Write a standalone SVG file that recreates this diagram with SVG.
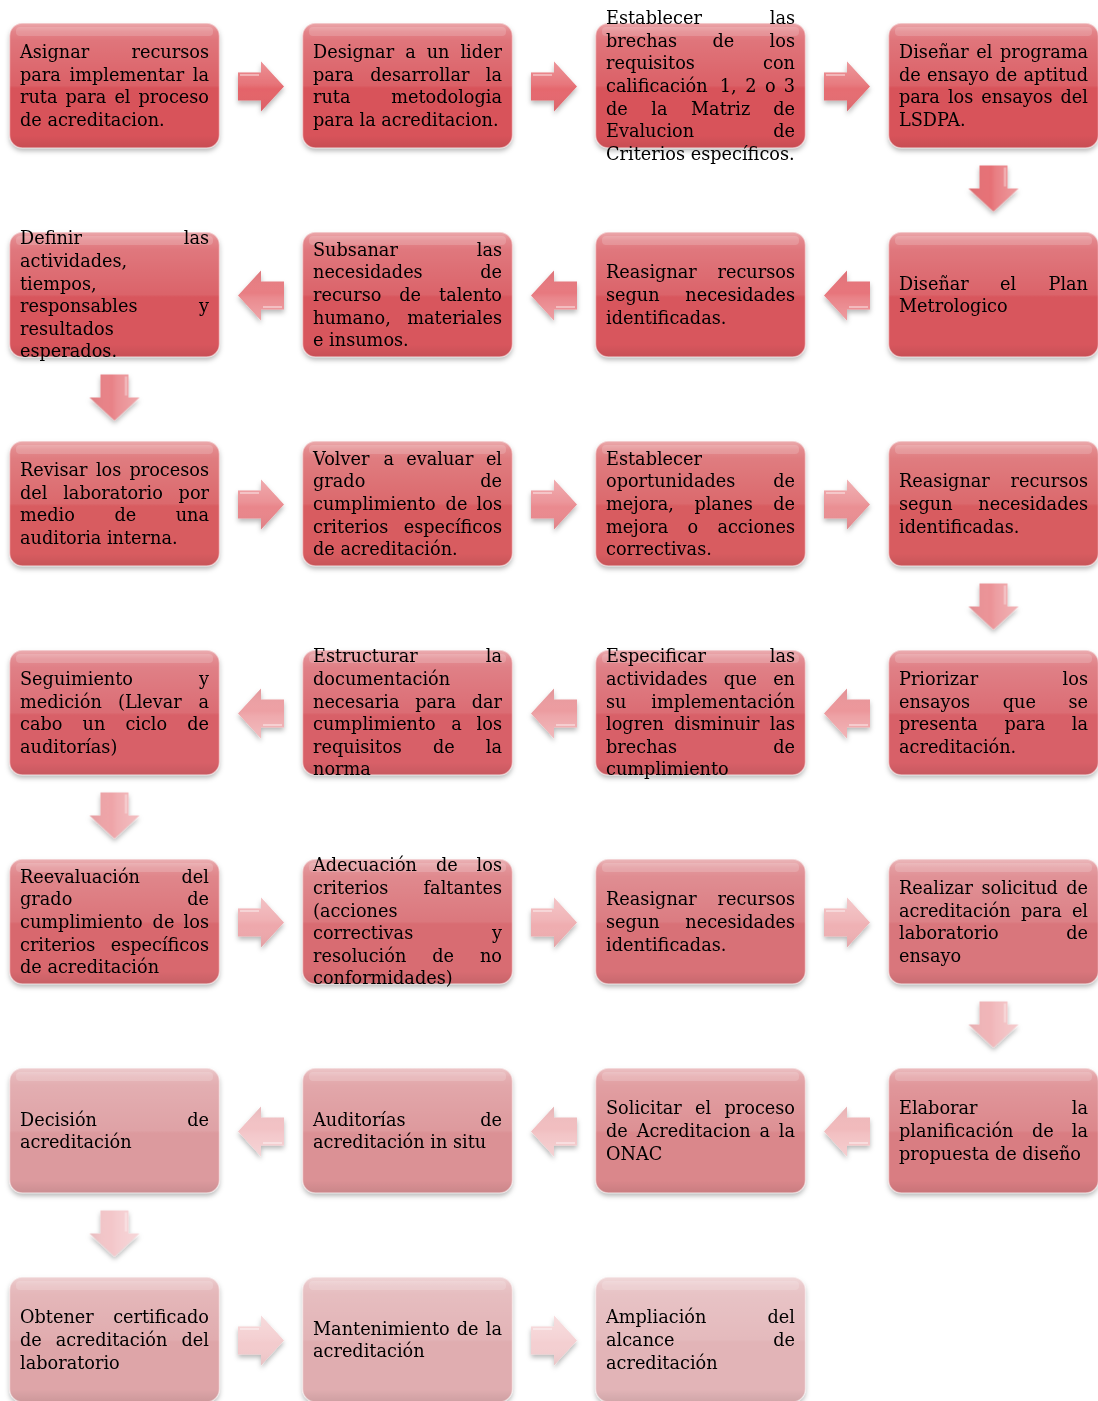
<svg xmlns="http://www.w3.org/2000/svg" width="1098" height="1401" viewBox="0 0 1098 1401">
<style>
.t{font-family:"DejaVu Serif","Liberation Serif",serif;font-size:17.7px;fill:#000}
.r{text-anchor:end}
.gl{fill:url(#gl);stroke:#fff;stroke-opacity:.5;stroke-width:1.5}
.hi{fill:#fff;fill-opacity:.16}
.box{filter:url(#sh)}
</style>
<defs>
<linearGradient id="gl" x1="0" y1="0" x2="0" y2="1">
<stop offset="0" stop-color="#fff" stop-opacity=".5"/>
<stop offset=".07" stop-color="#fff" stop-opacity=".28"/>
<stop offset=".14" stop-color="#fff" stop-opacity=".2"/>
<stop offset=".5" stop-color="#fff" stop-opacity=".08"/>
<stop offset=".52" stop-color="#fff" stop-opacity="0"/>
<stop offset=".9" stop-color="#000" stop-opacity="0"/>
<stop offset="1" stop-color="#000" stop-opacity=".08"/>
</linearGradient>
<linearGradient id="agl" x1="0" y1="0" x2="0" y2="1">
<stop offset="0" stop-color="#fff" stop-opacity=".3"/>
<stop offset=".45" stop-color="#fff" stop-opacity=".1"/>
<stop offset=".55" stop-color="#fff" stop-opacity="0"/>
<stop offset="1" stop-color="#000" stop-opacity=".05"/>
</linearGradient>
<filter id="sh" x="-10%" y="-10%" width="120%" height="125%">
<feDropShadow dx="0" dy="3" stdDeviation="2.5" flood-color="#000" flood-opacity=".28"/>
</filter>
<path id="arr" d="M-23,-14 H0 V-25 L23,0 L0,25 V14 H-23 Z"/>
<g id="ag"><use href="#arr" fill="url(#agl)"/><path d="M-21,-11.5 H-2" stroke="#fff" stroke-opacity=".4" stroke-width="2" fill="none"/></g>
</defs>
<rect width="1098" height="1401" fill="#fff"/>

<g id="connectors">
<g filter="url(#sh)">
<g transform="translate(261,86.5)" fill="#e4646a"><use href="#arr"/><use href="#ag"/></g>
<g transform="translate(554,86.5)" fill="#e5686e"><use href="#arr"/><use href="#ag"/></g>
<g transform="translate(847,86.5)" fill="#e56d72"><use href="#arr"/><use href="#ag"/></g>
<g transform="translate(993.5,188.5) rotate(90)" fill="#e67176"><use href="#arr"/><use href="#ag"/></g>
<g transform="translate(847,295.5) rotate(180)" fill="#e7757b"><use href="#arr"/><use href="#ag"/></g>
<g transform="translate(554,295.5) rotate(180)" fill="#e7797f"><use href="#arr"/><use href="#ag"/></g>
<g transform="translate(261,295.5) rotate(180)" fill="#e87e83"><use href="#arr"/><use href="#ag"/></g>
<g transform="translate(114.5,397.5) rotate(90)" fill="#e88287"><use href="#arr"/><use href="#ag"/></g>
<g transform="translate(261,504.5)" fill="#e9868b"><use href="#arr"/><use href="#ag"/></g>
<g transform="translate(554,504.5)" fill="#ea8a8f"><use href="#arr"/><use href="#ag"/></g>
<g transform="translate(847,504.5)" fill="#ea8f93"><use href="#arr"/><use href="#ag"/></g>
<g transform="translate(993.5,606.5) rotate(90)" fill="#eb9397"><use href="#arr"/><use href="#ag"/></g>
<g transform="translate(847,713.5) rotate(180)" fill="#ec979b"><use href="#arr"/><use href="#ag"/></g>
<g transform="translate(554,713.5) rotate(180)" fill="#ec9ca0"><use href="#arr"/><use href="#ag"/></g>
<g transform="translate(261,713.5) rotate(180)" fill="#eda0a4"><use href="#arr"/><use href="#ag"/></g>
<g transform="translate(114.5,815.5) rotate(90)" fill="#eea4a8"><use href="#arr"/><use href="#ag"/></g>
<g transform="translate(261,922.5)" fill="#eea8ac"><use href="#arr"/><use href="#ag"/></g>
<g transform="translate(554,922.5)" fill="#efadb0"><use href="#arr"/><use href="#ag"/></g>
<g transform="translate(847,922.5)" fill="#efb1b4"><use href="#arr"/><use href="#ag"/></g>
<g transform="translate(993.5,1024.5) rotate(90)" fill="#f0b5b8"><use href="#arr"/><use href="#ag"/></g>
<g transform="translate(847,1131.5) rotate(180)" fill="#f1babc"><use href="#arr"/><use href="#ag"/></g>
<g transform="translate(554,1131.5) rotate(180)" fill="#f1bec0"><use href="#arr"/><use href="#ag"/></g>
<g transform="translate(261,1131.5) rotate(180)" fill="#f2c2c5"><use href="#arr"/><use href="#ag"/></g>
<g transform="translate(114.5,1233.5) rotate(90)" fill="#f3c6c9"><use href="#arr"/><use href="#ag"/></g>
<g transform="translate(261,1340.5)" fill="#f3cbcd"><use href="#arr"/><use href="#ag"/></g>
<g transform="translate(554,1340.5)" fill="#f4cfd1"><use href="#arr"/><use href="#ag"/></g>
</g>
</g>

<g id="n01"><rect class="box" x="9.5" y="23" width="210" height="125" rx="13" fill="#d8535a"/><rect class="gl" x="9.5" y="23" width="210" height="125" rx="13"/><rect class="hi" x="16" y="27" width="197" height="9" rx="4"/>
<text class="t"><tspan x="20" y="58">Asignar</tspan><tspan class="r" x="209" y="58">recursos</tspan><tspan x="20" y="80.6">para</tspan><tspan x="69.5" y="80.6">implementar</tspan><tspan class="r" x="209" y="80.6">la</tspan><tspan x="20" y="103.2">ruta</tspan><tspan x="65.5" y="103.2">para</tspan><tspan x="114.4" y="103.2">el</tspan><tspan class="r" x="209" y="103.2">proceso</tspan><tspan x="20" y="125.8">de acreditacion.</tspan></text></g>

<g id="n02"><rect class="box" x="302.5" y="23" width="210" height="125" rx="13" fill="#d8535a"/><rect class="gl" x="302.5" y="23" width="210" height="125" rx="13"/><rect class="hi" x="309" y="27" width="197" height="9" rx="4"/>
<text class="t"><tspan x="313" y="58">Designar</tspan><tspan x="405.2" y="58">a</tspan><tspan x="426.7" y="58">un</tspan><tspan class="r" x="502" y="58">lider</tspan><tspan x="313" y="80.6">para</tspan><tspan x="370.2" y="80.6">desarrollar</tspan><tspan class="r" x="502" y="80.6">la</tspan><tspan x="313" y="103.2">ruta</tspan><tspan class="r" x="502" y="103.2">metodologia</tspan><tspan x="313" y="125.8">para la acreditacion.</tspan></text></g>

<g id="n03"><rect class="box" x="595.5" y="23" width="210" height="125" rx="13" fill="#d8535a"/><rect class="gl" x="595.5" y="23" width="210" height="125" rx="13"/><rect class="hi" x="602" y="27" width="197" height="9" rx="4"/>
<text class="t"><tspan x="606" y="24.1">Establecer</tspan><tspan class="r" x="795" y="24.1">las</tspan><tspan x="606" y="46.7">brechas</tspan><tspan x="712.5" y="46.7">de</tspan><tspan class="r" x="795" y="46.7">los</tspan><tspan x="606" y="69.3">requisitos</tspan><tspan class="r" x="795" y="69.3">con</tspan><tspan x="606" y="91.9">calificación</tspan><tspan x="719.8" y="91.9">1,</tspan><tspan x="745.2" y="91.9">2</tspan><tspan x="765" y="91.9">o</tspan><tspan class="r" x="795" y="91.9">3</tspan><tspan x="606" y="114.5">de</tspan><tspan x="651.3" y="114.5">la</tspan><tspan x="691" y="114.5">Matriz</tspan><tspan class="r" x="795" y="114.5">de</tspan><tspan x="606" y="137.1">Evalucion</tspan><tspan class="r" x="795" y="137.1">de</tspan><tspan x="606" y="159.7">Criterios específicos.</tspan></text></g>

<g id="n04"><rect class="box" x="888.5" y="23" width="210" height="125" rx="13" fill="#d8535a"/><rect class="gl" x="888.5" y="23" width="210" height="125" rx="13"/><rect class="hi" x="895" y="27" width="197" height="9" rx="4"/>
<text class="t"><tspan x="899" y="58">Diseñar</tspan><tspan x="976.3" y="58">el</tspan><tspan class="r" x="1088" y="58">programa</tspan><tspan x="899" y="80.6">de</tspan><tspan x="927" y="80.6">ensayo</tspan><tspan x="995.5" y="80.6">de</tspan><tspan class="r" x="1088" y="80.6">aptitud</tspan><tspan x="899" y="103.2">para</tspan><tspan x="947.9" y="103.2">los</tspan><tspan x="981.3" y="103.2">ensayos</tspan><tspan class="r" x="1088" y="103.2">del</tspan><tspan x="899" y="125.8">LSDPA.</tspan></text></g>

<g id="n05"><rect class="box" x="888.5" y="232" width="210" height="125" rx="13" fill="#d8565d"/><rect class="gl" x="888.5" y="232" width="210" height="125" rx="13"/><rect class="hi" x="895" y="236" width="197" height="9" rx="4"/>
<text class="t"><tspan x="899" y="289.6">Diseñar</tspan><tspan x="1000" y="289.6">el</tspan><tspan class="r" x="1088" y="289.6">Plan</tspan><tspan x="899" y="312.2">Metrologico</tspan></text></g>

<g id="n06"><rect class="box" x="595.5" y="232" width="210" height="125" rx="13" fill="#d8565d"/><rect class="gl" x="595.5" y="232" width="210" height="125" rx="13"/><rect class="hi" x="602" y="236" width="197" height="9" rx="4"/>
<text class="t"><tspan x="606" y="278.3">Reasignar</tspan><tspan class="r" x="795" y="278.3">recursos</tspan><tspan x="606" y="300.9">segun</tspan><tspan class="r" x="795" y="300.9">necesidades</tspan><tspan x="606" y="323.5">identificadas.</tspan></text></g>

<g id="n07"><rect class="box" x="302.5" y="232" width="210" height="125" rx="13" fill="#d8565d"/><rect class="gl" x="302.5" y="232" width="210" height="125" rx="13"/><rect class="hi" x="309" y="236" width="197" height="9" rx="4"/>
<text class="t"><tspan x="313" y="255.7">Subsanar</tspan><tspan class="r" x="502" y="255.7">las</tspan><tspan x="313" y="278.3">necesidades</tspan><tspan class="r" x="502" y="278.3">de</tspan><tspan x="313" y="300.9">recurso</tspan><tspan x="399.3" y="300.9">de</tspan><tspan class="r" x="502" y="300.9">talento</tspan><tspan x="313" y="323.5">humano,</tspan><tspan class="r" x="502" y="323.5">materiales</tspan><tspan x="313" y="346.1">e insumos.</tspan></text></g>

<g id="n08"><rect class="box" x="9.5" y="232" width="210" height="125" rx="13" fill="#d8565d"/><rect class="gl" x="9.5" y="232" width="210" height="125" rx="13"/><rect class="hi" x="16" y="236" width="197" height="9" rx="4"/>
<text class="t"><tspan x="20" y="244.4">Definir</tspan><tspan class="r" x="209" y="244.4">las</tspan><tspan x="20" y="267">actividades,</tspan><tspan x="20" y="289.6">tiempos,</tspan><tspan x="20" y="312.2">responsables</tspan><tspan class="r" x="209" y="312.2">y</tspan><tspan x="20" y="334.8">resultados</tspan><tspan x="20" y="357.4">esperados.</tspan></text></g>

<g id="n09"><rect class="box" x="9.5" y="441" width="210" height="125" rx="13" fill="#d85b61"/><rect class="gl" x="9.5" y="441" width="210" height="125" rx="13"/><rect class="hi" x="16" y="445" width="197" height="9" rx="4"/>
<text class="t"><tspan x="20" y="476">Revisar</tspan><tspan x="95.9" y="476">los</tspan><tspan class="r" x="209" y="476">procesos</tspan><tspan x="20" y="498.6">del</tspan><tspan x="63.2" y="498.6">laboratorio</tspan><tspan class="r" x="209" y="498.6">por</tspan><tspan x="20" y="521.2">medio</tspan><tspan x="114.4" y="521.2">de</tspan><tspan class="r" x="209" y="521.2">una</tspan><tspan x="20" y="543.8">auditoria interna.</tspan></text></g>

<g id="n10"><rect class="box" x="302.5" y="441" width="210" height="125" rx="13" fill="#d85b61"/><rect class="gl" x="302.5" y="441" width="210" height="125" rx="13"/><rect class="hi" x="309" y="445" width="197" height="9" rx="4"/>
<text class="t"><tspan x="313" y="464.7">Volver</tspan><tspan x="383.4" y="464.7">a</tspan><tspan x="406.3" y="464.7">evaluar</tspan><tspan class="r" x="502" y="464.7">el</tspan><tspan x="313" y="487.3">grado</tspan><tspan class="r" x="502" y="487.3">de</tspan><tspan x="313" y="509.9">cumplimiento</tspan><tspan x="445.6" y="509.9">de</tspan><tspan class="r" x="502" y="509.9">los</tspan><tspan x="313" y="532.5">criterios</tspan><tspan class="r" x="502" y="532.5">específicos</tspan><tspan x="313" y="555.1">de acreditación.</tspan></text></g>

<g id="n11"><rect class="box" x="595.5" y="441" width="210" height="125" rx="13" fill="#d85b61"/><rect class="gl" x="595.5" y="441" width="210" height="125" rx="13"/><rect class="hi" x="602" y="445" width="197" height="9" rx="4"/>
<text class="t"><tspan x="606" y="464.7">Establecer</tspan><tspan x="606" y="487.3">oportunidades</tspan><tspan class="r" x="795" y="487.3">de</tspan><tspan x="606" y="509.9">mejora,</tspan><tspan x="694.4" y="509.9">planes</tspan><tspan class="r" x="795" y="509.9">de</tspan><tspan x="606" y="532.5">mejora</tspan><tspan x="687.6" y="532.5">o</tspan><tspan class="r" x="795" y="532.5">acciones</tspan><tspan x="606" y="555.1">correctivas.</tspan></text></g>

<g id="n12"><rect class="box" x="888.5" y="441" width="210" height="125" rx="13" fill="#d85b61"/><rect class="gl" x="888.5" y="441" width="210" height="125" rx="13"/><rect class="hi" x="895" y="445" width="197" height="9" rx="4"/>
<text class="t"><tspan x="899" y="487.3">Reasignar</tspan><tspan class="r" x="1088" y="487.3">recursos</tspan><tspan x="899" y="509.9">segun</tspan><tspan class="r" x="1088" y="509.9">necesidades</tspan><tspan x="899" y="532.5">identificadas.</tspan></text></g>

<g id="n13"><rect class="box" x="888.5" y="650" width="210" height="125" rx="13" fill="#d86167"/><rect class="gl" x="888.5" y="650" width="210" height="125" rx="13"/><rect class="hi" x="895" y="654" width="197" height="9" rx="4"/>
<text class="t"><tspan x="899" y="685">Priorizar</tspan><tspan class="r" x="1088" y="685">los</tspan><tspan x="899" y="707.6">ensayos</tspan><tspan x="1002.7" y="707.6">que</tspan><tspan class="r" x="1088" y="707.6">se</tspan><tspan x="899" y="730.2">presenta</tspan><tspan x="1004.4" y="730.2">para</tspan><tspan class="r" x="1088" y="730.2">la</tspan><tspan x="899" y="752.8">acreditación.</tspan></text></g>

<g id="n14"><rect class="box" x="595.5" y="650" width="210" height="125" rx="13" fill="#d86167"/><rect class="gl" x="595.5" y="650" width="210" height="125" rx="13"/><rect class="hi" x="602" y="654" width="197" height="9" rx="4"/>
<text class="t"><tspan x="606" y="662.4">Especificar</tspan><tspan class="r" x="795" y="662.4">las</tspan><tspan x="606" y="685">actividades</tspan><tspan x="723.8" y="685">que</tspan><tspan class="r" x="795" y="685">en</tspan><tspan x="606" y="707.6">su</tspan><tspan class="r" x="795" y="707.6">implementación</tspan><tspan x="606" y="730.2">logren</tspan><tspan x="674.2" y="730.2">disminuir</tspan><tspan class="r" x="795" y="730.2">las</tspan><tspan x="606" y="752.8">brechas</tspan><tspan class="r" x="795" y="752.8">de</tspan><tspan x="606" y="775.4">cumplimiento</tspan></text></g>

<g id="n15"><rect class="box" x="302.5" y="650" width="210" height="125" rx="13" fill="#d86167"/><rect class="gl" x="302.5" y="650" width="210" height="125" rx="13"/><rect class="hi" x="309" y="654" width="197" height="9" rx="4"/>
<text class="t"><tspan x="313" y="662.4">Estructurar</tspan><tspan class="r" x="502" y="662.4">la</tspan><tspan x="313" y="685">documentación</tspan><tspan x="313" y="707.6">necesaria</tspan><tspan x="415.2" y="707.6">para</tspan><tspan class="r" x="502" y="707.6">dar</tspan><tspan x="313" y="730.2">cumplimiento</tspan><tspan x="451.3" y="730.2">a</tspan><tspan class="r" x="502" y="730.2">los</tspan><tspan x="313" y="752.8">requisitos</tspan><tspan x="432.9" y="752.8">de</tspan><tspan class="r" x="502" y="752.8">la</tspan><tspan x="313" y="775.4">norma</tspan></text></g>

<g id="n16"><rect class="box" x="9.5" y="650" width="210" height="125" rx="13" fill="#d86167"/><rect class="gl" x="9.5" y="650" width="210" height="125" rx="13"/><rect class="hi" x="16" y="654" width="197" height="9" rx="4"/>
<text class="t"><tspan x="20" y="685">Seguimiento</tspan><tspan class="r" x="209" y="685">y</tspan><tspan x="20" y="707.6">medición</tspan><tspan x="118" y="707.6">(Llevar</tspan><tspan class="r" x="209" y="707.6">a</tspan><tspan x="20" y="730.2">cabo</tspan><tspan x="82.5" y="730.2">un</tspan><tspan x="125.4" y="730.2">ciclo</tspan><tspan class="r" x="209" y="730.2">de</tspan><tspan x="20" y="752.8">auditorías)</tspan></text></g>

<g id="n17"><rect class="box" x="9.5" y="859" width="210" height="125" rx="13" fill="#d8686e"/><rect class="gl" x="9.5" y="859" width="210" height="125" rx="13"/><rect class="hi" x="16" y="863" width="197" height="9" rx="4"/>
<text class="t"><tspan x="20" y="882.7">Reevaluación</tspan><tspan class="r" x="209" y="882.7">del</tspan><tspan x="20" y="905.3">grado</tspan><tspan class="r" x="209" y="905.3">de</tspan><tspan x="20" y="927.9">cumplimiento</tspan><tspan x="152.6" y="927.9">de</tspan><tspan class="r" x="209" y="927.9">los</tspan><tspan x="20" y="950.5">criterios</tspan><tspan class="r" x="209" y="950.5">específicos</tspan><tspan x="20" y="973.1">de acreditación</tspan></text></g>

<g id="n18"><rect class="box" x="302.5" y="859" width="210" height="125" rx="13" fill="#d86c72"/><rect class="gl" x="302.5" y="859" width="210" height="125" rx="13"/><rect class="hi" x="309" y="863" width="197" height="9" rx="4"/>
<text class="t"><tspan x="313" y="871.4">Adecuación</tspan><tspan x="436" y="871.4">de</tspan><tspan class="r" x="502" y="871.4">los</tspan><tspan x="313" y="894">criterios</tspan><tspan class="r" x="502" y="894">faltantes</tspan><tspan x="313" y="916.6">(acciones</tspan><tspan x="313" y="939.2">correctivas</tspan><tspan class="r" x="502" y="939.2">y</tspan><tspan x="313" y="961.8">resolución</tspan><tspan x="432.3" y="961.8">de</tspan><tspan class="r" x="502" y="961.8">no</tspan><tspan x="313" y="984.4">conformidades)</tspan></text></g>

<g id="n19"><rect class="box" x="595.5" y="859" width="210" height="125" rx="13" fill="#d87177"/><rect class="gl" x="595.5" y="859" width="210" height="125" rx="13"/><rect class="hi" x="602" y="863" width="197" height="9" rx="4"/>
<text class="t"><tspan x="606" y="905.3">Reasignar</tspan><tspan class="r" x="795" y="905.3">recursos</tspan><tspan x="606" y="927.9">segun</tspan><tspan class="r" x="795" y="927.9">necesidades</tspan><tspan x="606" y="950.5">identificadas.</tspan></text></g>

<g id="n20"><rect class="box" x="888.5" y="859" width="210" height="125" rx="13" fill="#d9767b"/><rect class="gl" x="888.5" y="859" width="210" height="125" rx="13"/><rect class="hi" x="895" y="863" width="197" height="9" rx="4"/>
<text class="t"><tspan x="899" y="894">Realizar</tspan><tspan x="981.5" y="894">solicitud</tspan><tspan class="r" x="1088" y="894">de</tspan><tspan x="899" y="916.6">acreditación</tspan><tspan x="1020.9" y="916.6">para</tspan><tspan class="r" x="1088" y="916.6">el</tspan><tspan x="899" y="939.2">laboratorio</tspan><tspan class="r" x="1088" y="939.2">de</tspan><tspan x="899" y="961.8">ensayo</tspan></text></g>

<g id="n21"><rect class="box" x="888.5" y="1068" width="210" height="125" rx="13" fill="#d97d82"/><rect class="gl" x="888.5" y="1068" width="210" height="125" rx="13"/><rect class="hi" x="895" y="1072" width="197" height="9" rx="4"/>
<text class="t"><tspan x="899" y="1114.3">Elaborar</tspan><tspan class="r" x="1088" y="1114.3">la</tspan><tspan x="899" y="1136.9">planificación</tspan><tspan x="1032" y="1136.9">de</tspan><tspan class="r" x="1088" y="1136.9">la</tspan><tspan x="899" y="1159.5">propuesta de diseño</tspan></text></g>

<g id="n22"><rect class="box" x="595.5" y="1068" width="210" height="125" rx="13" fill="#da878b"/><rect class="gl" x="595.5" y="1068" width="210" height="125" rx="13"/><rect class="hi" x="602" y="1072" width="197" height="9" rx="4"/>
<text class="t"><tspan x="606" y="1114.3">Solicitar</tspan><tspan x="695" y="1114.3">el</tspan><tspan class="r" x="795" y="1114.3">proceso</tspan><tspan x="606" y="1136.9">de</tspan><tspan x="636.7" y="1136.9">Acreditacion</tspan><tspan x="759.5" y="1136.9">a</tspan><tspan class="r" x="795" y="1136.9">la</tspan><tspan x="606" y="1159.5">ONAC</tspan></text></g>

<g id="n23"><rect class="box" x="302.5" y="1068" width="210" height="125" rx="13" fill="#db9195"/><rect class="gl" x="302.5" y="1068" width="210" height="125" rx="13"/><rect class="hi" x="309" y="1072" width="197" height="9" rx="4"/>
<text class="t"><tspan x="313" y="1125.6">Auditorías</tspan><tspan class="r" x="502" y="1125.6">de</tspan><tspan x="313" y="1148.2">acreditación in situ</tspan></text></g>

<g id="n24"><rect class="box" x="9.5" y="1068" width="210" height="125" rx="13" fill="#dc9a9e"/><rect class="gl" x="9.5" y="1068" width="210" height="125" rx="13"/><rect class="hi" x="16" y="1072" width="197" height="9" rx="4"/>
<text class="t"><tspan x="20" y="1125.6">Decisión</tspan><tspan class="r" x="209" y="1125.6">de</tspan><tspan x="20" y="1148.2">acreditación</tspan></text></g>

<g id="n25"><rect class="box" x="9.5" y="1277" width="210" height="125" rx="13" fill="#dea5a8"/><rect class="gl" x="9.5" y="1277" width="210" height="125" rx="13"/><rect class="hi" x="16" y="1281" width="197" height="9" rx="4"/>
<text class="t"><tspan x="20" y="1323.3">Obtener</tspan><tspan class="r" x="209" y="1323.3">certificado</tspan><tspan x="20" y="1345.9">de</tspan><tspan x="55.8" y="1345.9">acreditación</tspan><tspan class="r" x="209" y="1345.9">del</tspan><tspan x="20" y="1368.5">laboratorio</tspan></text></g>

<g id="n26"><rect class="box" x="302.5" y="1277" width="210" height="125" rx="13" fill="#e0adb0"/><rect class="gl" x="302.5" y="1277" width="210" height="125" rx="13"/><rect class="hi" x="309" y="1281" width="197" height="9" rx="4"/>
<text class="t"><tspan x="313" y="1334.6">Mantenimiento</tspan><tspan x="456.7" y="1334.6">de</tspan><tspan class="r" x="502" y="1334.6">la</tspan><tspan x="313" y="1357.2">acreditación</tspan></text></g>

<g id="n27"><rect class="box" x="595.5" y="1277" width="210" height="125" rx="13" fill="#e2b4b7"/><rect class="gl" x="595.5" y="1277" width="210" height="125" rx="13"/><rect class="hi" x="602" y="1281" width="197" height="9" rx="4"/>
<text class="t"><tspan x="606" y="1323.3">Ampliación</tspan><tspan class="r" x="795" y="1323.3">del</tspan><tspan x="606" y="1345.9">alcance</tspan><tspan class="r" x="795" y="1345.9">de</tspan><tspan x="606" y="1368.5">acreditación</tspan></text></g>
</svg>
